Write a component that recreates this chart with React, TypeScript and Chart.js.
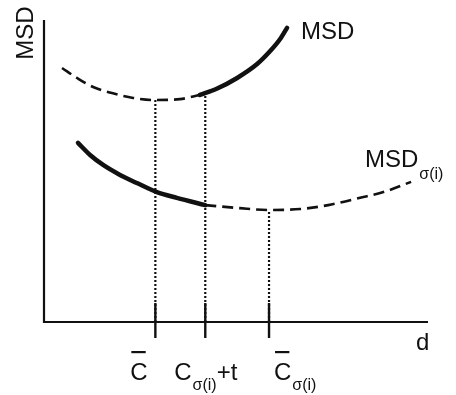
import React, { useEffect, useRef } from "react";
import { Chart, registerables } from "chart.js";

Chart.register(...registerables);

// ---- data (x: d, y: MSD, arbitrary units 0..100) ----
const msdDashedX = [4.7, 8.6, 12.8, 17.7, 23.2, 29.0, 35.4, 40.6];
const msdDashedY = [84.1, 80.8, 77.8, 75.8, 74.2, 73.5, 73.8, 75.2];
const msdSolidX = [40.6, 45.1, 50.3, 55.5, 58.9, 61.5, 63.3];
const msdSolidY = [75.2, 77.3, 80.8, 85.4, 89.7, 93.7, 97.4];
const sigmaSolidX = [8.85, 12.0, 15.4, 19.8, 24.2, 29.4, 34.6, 42.0];
const sigmaSolidY = [59.3, 55.3, 52.0, 48.7, 46.0, 43.0, 41.1, 38.7];
const sigmaDashedX = [42.0, 51.0, 58.6, 66.7, 74.0, 82.6, 88.8, 95.6];
const sigmaDashedY = [38.7, 37.7, 37.1, 37.4, 38.7, 41.2, 43.2, 46.4];

const tickValues = [29.0, 42.0, 58.6];
const guideTops = [73.5, 75.8, 37.1];
const tickMain = ["C", "C", "C"];
const tickSub = ["", "σ(i)", "σ(i)"];
const tickSuffix = ["", "+t", ""];
const tickBar = [true, false, true];

const yTitle = "MSD";
const xTitle = "d";
const seriesMain = ["MSD", "MSD"];
const seriesSub = ["", "σ(i)"];

const toPts = (xs: number[], ys: number[]) => xs.map((x, i) => ({ x, y: ys[i] }));

const FONT = "'Liberation Sans', Arial, Helvetica, sans-serif";
const INK = "#111";

const overlay = {
  id: "overlay",
  afterDraw(chart: any) {
    const { ctx, chartArea, scales } = chart;
    const xs = scales.x;
    const ys = scales.y;
    ctx.save();
    ctx.strokeStyle = INK;
    ctx.fillStyle = INK;
    ctx.lineCap = "butt";
    // axes
    ctx.lineWidth = 2.2;
    ctx.beginPath();
    ctx.moveTo(chartArea.left, chartArea.top);
    ctx.lineTo(chartArea.left, chartArea.bottom);
    ctx.lineTo(chartArea.right, chartArea.bottom);
    ctx.stroke();
    // tick marks
    ctx.lineWidth = 2.4;
    tickValues.forEach((v) => {
      const px = xs.getPixelForValue(v);
      ctx.beginPath();
      ctx.moveTo(px, chartArea.bottom - 19);
      ctx.lineTo(px, chartArea.bottom + 16);
      ctx.stroke();
    });
    // tick labels
    const offs = [-25, -31, 5];
    tickValues.forEach((v, i) => {
      const px = xs.getPixelForValue(v) + offs[i];
      const base = chartArea.bottom + 58;
      ctx.font = `24px ${FONT}`;
      ctx.textAlign = "left";
      ctx.textBaseline = "alphabetic";
      ctx.fillText(tickMain[i], px, base);
      const cw = ctx.measureText(tickMain[i]).width;
      if (tickBar[i]) {
        ctx.fillRect(px + 1, chartArea.bottom + 29, cw - 3, 2.2);
      }
      let cx = px + cw;
      if (tickSub[i]) {
        ctx.font = `16px ${FONT}`;
        ctx.fillText(tickSub[i], cx + 1, base + 10);
        cx += ctx.measureText(tickSub[i]).width + 1;
      }
      if (tickSuffix[i]) {
        ctx.font = `24px ${FONT}`;
        ctx.fillText(tickSuffix[i], cx, base);
      }
    });
    // axis titles
    ctx.font = `24px ${FONT}`;
    ctx.textAlign = "left";
    ctx.fillText(xTitle, chartArea.right - 12, chartArea.bottom + 28);
    ctx.save();
    ctx.translate(chartArea.left - 11, chartArea.top + 13);
    ctx.rotate(-Math.PI / 2);
    ctx.textAlign = "center";
    ctx.fillText(yTitle, 0, 0);
    ctx.restore();
    // series labels
    const l1x = xs.getPixelForValue(msdSolidX[msdSolidX.length - 1]) + 14;
    const l1y = ys.getPixelForValue(msdSolidY[msdSolidY.length - 1]) + 11;
    ctx.font = `24px ${FONT}`;
    ctx.fillText(seriesMain[0], l1x, l1y);
    const l2x = chartArea.left + 321;
    const l2y = ys.getPixelForValue(sigmaDashedY[sigmaDashedY.length - 1]) - 15;
    ctx.fillText(seriesMain[1], l2x, l2y);
    const w2 = ctx.measureText(seriesMain[1]).width;
    ctx.font = `16px ${FONT}`;
    ctx.fillText(seriesSub[1], l2x + w2 + 1, l2y + 12);
    ctx.restore();
  },
};

export default function App() {
  const ref = useRef<HTMLCanvasElement | null>(null);
  useEffect(() => {
    if (!ref.current) return;
    const dashed = {
      borderColor: INK,
      borderWidth: 2.6,
      borderDash: [11, 6],
      pointRadius: 0,
      cubicInterpolationMode: "monotone" as const,
      fill: false,
      clip: false as any,
    };
    const solid = {
      borderColor: INK,
      borderWidth: 4.5,
      borderCapStyle: "round" as const,
      pointRadius: 0,
      cubicInterpolationMode: "monotone" as const,
      fill: false,
      clip: false as any,
    };
    const guides = tickValues.map((v, i) => ({
      data: [
        { x: v, y: 0 },
        { x: v, y: guideTops[i] },
      ],
      borderColor: INK,
      borderWidth: 2.2,
      borderDash: [2, 2],
      pointRadius: 0,
      tension: 0,
      fill: false,
      clip: false as any,
    }));
    const chart = new Chart(ref.current, {
      type: "line",
      data: {
        datasets: [
          ...guides,
          { ...dashed, data: toPts(msdDashedX, msdDashedY) },
          { ...solid, data: toPts(msdSolidX, msdSolidY) },
          { ...solid, data: toPts(sigmaSolidX, sigmaSolidY) },
          { ...dashed, data: toPts(sigmaDashedX, sigmaDashedY) },
        ] as any,
      },
      options: {
        responsive: false,
        animation: false,
        layout: { padding: { left: 44, right: 28, top: 20, bottom: 73 } },
        scales: {
          x: { type: "linear", min: 0, max: 100, display: false },
          y: { type: "linear", min: 0, max: 100, display: false },
        },
        plugins: { legend: { display: false }, tooltip: { enabled: false } },
        events: [],
      },
      plugins: [overlay],
    });
    return () => chart.destroy();
  }, []);
  return (
    <div style={{ position: "fixed", left: 0, top: 0, width: 456, height: 395, background: "#fff" }}>
      <canvas ref={ref} width={456} height={395} style={{ width: 456, height: 395, display: "block" }} />
    </div>
  );
}
